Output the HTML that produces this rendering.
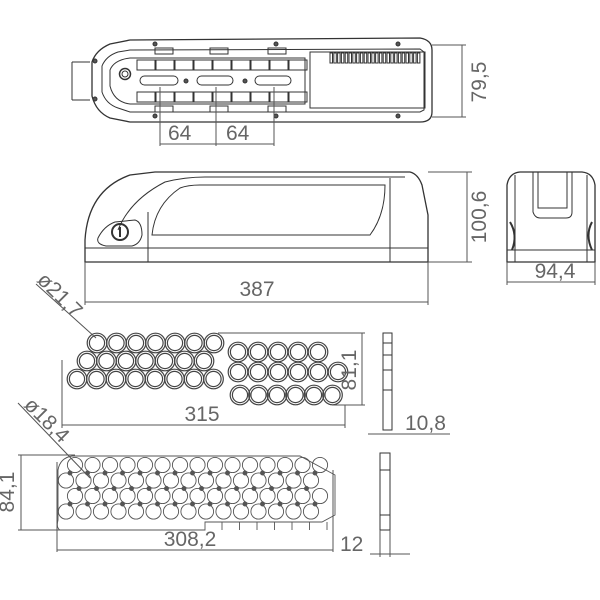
<!DOCTYPE html>
<html><head><meta charset="utf-8"><style>
html,body{margin:0;padding:0;background:#fff}
svg{display:block}
text{font-family:"Liberation Sans",sans-serif;fill:#666;stroke:none;font-size:21px}
</style></head><body>
<svg id="s" width="600" height="600" viewBox="0 0 600 600" fill="none" stroke="#333" stroke-width="1">
<!-- TOP VIEW -->
<path d="M92,96 L92,62 Q96,50 110,44 L130,40 L420,38 Q432,40 432,50 L432,112 Q432,122 420,122 L130,122 L110,118 Q96,112 92,96 Z" stroke-width="1.3"/>
<path d="M102,92 L102,66 Q106,56 118,52 L130,50 L420,49 L424,52 L424,110 L420,112 L130,112 L118,108 Q106,104 102,92 Z"/>
<path d="M110,86 L110,70 Q114,60 130,58 L305,58 L305,104 L130,104 Q114,102 110,86Z"/>
<circle cx="125" cy="74" r="5.5" stroke-width="1.5"/><circle cx="125" cy="74" r="3"/>
<path d="M72,62 L72,100 M72,62 L90,62 M72,100 L90,100"/>
<rect x="310" y="52" width="115" height="56"/>
<g id="vent"></g>
<g id="rects"></g>
<rect x="140" y="76" width="38" height="9" rx="4.5"/><rect x="197" y="76" width="36" height="9" rx="4.5"/><rect x="255" y="76" width="36" height="9" rx="4.5"/>
<circle cx="186" cy="81" r="2" fill="#555"/><circle cx="245" cy="81" r="2" fill="#555"/>
<g fill="#555"><circle cx="155" cy="44" r="2"/><circle cx="276" cy="44" r="2"/><circle cx="398" cy="44" r="2"/><circle cx="155" cy="116" r="2"/><circle cx="276" cy="116" r="2"/><circle cx="398" cy="116" r="2"/><circle cx="95" cy="61" r="2"/><circle cx="95" cy="99" r="2"/></g>
<path d="M160,87 L160,146 M216,87 L216,146 M274,87 L274,146 M160,144 L274,144" stroke="#555"/>
<text x="168" y="140">64</text><text x="226" y="140">64</text>
<path d="M432,45 L466,45 M432,117 L466,117 M462,45 L462,117" stroke="#555"/>
<text transform="translate(486,82) rotate(-90)" text-anchor="middle">79,5</text>

<!-- SIDE VIEW -->
<path d="M85,262 L85,240 Q88,190 130,175 L155,172 L410,172 Q418,174 422,185 L428,215 L428,262 Z" stroke-width="1.3"/>
<path d="M85,248 L428,248 M148,212 L148,262 M390,178 L390,262"/>
<path d="M118,230 Q130,200 165,182 Q185,177 205,177 L405,177"/>
<path d="M152,235 Q155,205 180,188 Q188,185 200,185 L385,185 Q385,215 370,235 Z"/>
<path d="M98,238 Q104,226 115,222 L135,220 Q142,222 142,235 Q140,244 132,246 L106,246 Q96,244 98,238Z"/>
<circle cx="120" cy="232" r="8" stroke-width="2"/><path d="M120,227 L120,237" stroke-width="2"/>
<path d="M428,172 L472,172 M428,262 L472,262 M467,172 L467,262 M85,262 L85,305 M428,262 L428,305 M85,302 L428,302" stroke="#555"/>
<text transform="translate(486,217) rotate(-90)" text-anchor="middle">100,6</text>
<text x="257" y="296" text-anchor="middle">387</text>

<!-- END VIEW -->
<path d="M507,262 L507,185 Q509,173 520,172 L582,172 Q593,173 595,185 L595,262 Z" stroke-width="1.3"/>
<path d="M533,172 L533,212 Q535,218 540,218 L566,218 Q572,218 572,212 L572,172 M538,172 L538,208 L567,208 L567,172 M507,250 L595,250 M515,175 L515,262 M587,175 L587,262"/>
<path d="M510,222 Q518,235 512,250 M592,222 Q585,235 592,250" stroke-width="2"/>
<path d="M507,262 L507,285 M595,262 L595,285 M507,282 L595,282" stroke="#555"/>
<text x="555" y="278" text-anchor="middle">94,4</text>

<!-- HOLDER 1 -->
<g id="h1" stroke-width="1.2" stroke="#444"></g>
<path d="M218,333 L365,333 M332,405 L365,405 M362,333 L362,405 M62,360 L62,428 M345,405 L345,428 M62,425 L345,425" stroke="#555"/>
<text transform="translate(356,370) rotate(-90)" text-anchor="middle">81,1</text>
<text x="202" y="421" text-anchor="middle">315</text>
<path d="M383,333 L392,333 L392,430 L383,430 Z M383,343 L392,343 M383,355 L392,355 M383,370 L392,370 M383,390 L392,390"/>
<path d="M368,434 L450,434" stroke="#555"/>
<text x="405" y="430">10,8</text>
<path d="M36,284 L96,338" stroke="#555"/>
<text transform="translate(55,300) rotate(45)" text-anchor="middle" font-size="19">ø21,7</text>

<!-- HOLDER 2 -->
<g id="h2" stroke-width="0.9" stroke="#555"></g>
<path d="M18,455 L75,455 M18,530 L205,530 M21,455 L21,530 M57,462 L57,552 M333,470 L333,552 M57,550 L333,550" stroke="#555"/>
<text transform="translate(14,492) rotate(-90)" text-anchor="middle">84,1</text>
<text x="190" y="546" text-anchor="middle">308,2</text>
<path d="M380,453 L390,453 L390,530 L380,530 Z M380,470 L390,470 M380,515 L390,515"/>
<path d="M380,530 L380,557 M390,530 L390,557 M370,554 L410,554" stroke="#555"/>
<text x="340" y="551">12</text>
<path d="M18,403 L90,478" stroke="#555"/>
<text transform="translate(42,425) rotate(45)" text-anchor="middle" font-size="19">ø18,4</text>
</svg>
<script>
var NS="http://www.w3.org/2000/svg";
function el(p,t,a){var e=document.createElementNS(NS,t);for(var k in a)e.setAttribute(k,a[k]);document.getElementById(p).appendChild(e);return e;}
for(var i=0;i<24;i++)el("vent","rect",{x:330+i*3.8,y:53,width:2.5,height:10});
for(var i=0;i<9;i++){el("rects","rect",{x:137+i*19,y:60,width:18,height:10});el("rects","rect",{x:137+i*19,y:92,width:18,height:10});}
[155,210,268].forEach(function(x){el("rects","rect",{x:x,y:48,width:18,height:6});el("rects","rect",{x:x,y:106,width:18,height:6});});
function c(g,x,y,r){el(g,"circle",{cx:x,cy:y,r:r});el(g,"circle",{cx:x,cy:y,r:r-2.2});}
for(var i=0;i<7;i++)c("h1",97+i*19.5,343,9.8);
for(var i=0;i<7;i++)c("h1",87+i*19.5,361,9.8);
for(var i=0;i<8;i++)c("h1",77+i*19.5,379,9.8);
for(var i=0;i<5;i++)c("h1",238+i*20,352,9.8);
for(var i=0;i<6;i++)c("h1",238+i*20,372,9.8);
for(var i=0;i<6;i++)c("h1",240+i*18.5,395,9.8);
el("h2","path",{d:"M58,470 Q60,458 72,456 L300,456 L335,475 L335,515 L322,522 L205,522 L205,530 L60,530 Q56,528 58,520 Z"});
for(var r=0;r<4;r++){var y=465+r*15.5;var x0=(r%2==0)?75:66;for(var i=0;i<15;i++){var x=x0+i*17.5;if(x>325)break;el("h2","circle",{cx:x,cy:y,r:7.6});}}
for(var r=0;r<3;r++){for(var i=0;i<15;i++){var x=70+i*17.5+(r%2?9:0);if(x>320)break;el("h2","circle",{cx:x,cy:473+r*15.5,r:2,fill:"#555"});}}
for(var i=0;i<7;i++)el("h2","path",{d:"M"+(222+i*17.5)+",522 L"+(222+i*17.5)+",530"});
</script>
</body></html>
